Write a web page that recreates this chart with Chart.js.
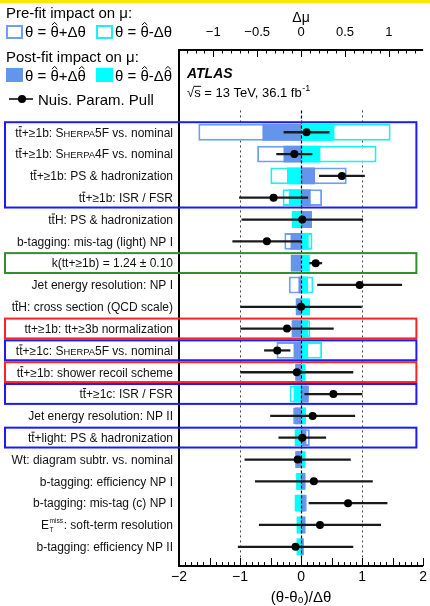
<!DOCTYPE html>
<html>
<head>
<meta charset="utf-8">
<script src="https://cdn.jsdelivr.net/npm/chart.js@4.4.1/dist/chart.umd.min.js"></script>
<style>
  html, body { margin: 0; padding: 0; background: #fff; }
  canvas { display: block; }
</style>
</head>
<body>
<canvas id="ranking" width="430" height="606"></canvas>
<script>
// nuisance parameters, ranked from top to bottom
const labels = [
  'tt\u0304+≥1b: Sherpa5F vs. nominal',
  'tt\u0304+≥1b: Sherpa4F vs. nominal',
  'tt\u0304+≥1b: PS & hadronization',
  'tt\u0304+≥1b: ISR / FSR',
  'tt\u0304H: PS & hadronization',
  'b-tagging: mis-tag (light) NP I',
  'k(tt+≥1b) = 1.24 ± 0.10',
  'Jet energy resolution: NP I',
  'tt\u0304H: cross section (QCD scale)',
  'tt+≥1b: tt+≥3b normalization',
  'tt\u0304+≥1c: Sherpa5F vs. nominal',
  'tt\u0304+≥1b: shower recoil scheme',
  'tt\u0304+≥1c: ISR / FSR',
  'Jet energy resolution: NP II',
  'tt\u0304+light: PS & hadronization',
  'Wt: diagram subtr. vs. nominal',
  'b-tagging: efficiency NP I',
  'b-tagging: mis-tag (c) NP I',
  'E_{T}^{miss}: soft-term resolution',
  'b-tagging: efficiency NP II'
];
// impact on mu (top axis)
const preUp    = [-1.17, -0.50, 0.52, 0.24, 0.125, -0.19, null, -0.14, -0.06, -0.11, -0.28, -0.065, 0.09, -0.09, 0.10, -0.065, 0.05, 0.065, 0.05, 0.03];
const preDown  = [1.02, 0.86, -0.35, -0.21, -0.105, 0.13, null, 0.14, 0.10, 0.105, 0.24, 0.05, -0.13, 0.055, -0.075, 0.05, -0.055, -0.075, -0.05, -0.05];
const postUp   = [-0.44, -0.20, 0.16, 0.11, 0.125, -0.12, -0.117, -0.03, -0.06, -0.10, -0.085, -0.065, 0.08, -0.07, 0.06, -0.065, 0.05, 0.05, 0.05, 0.03];
const postDown = [0.38, 0.22, -0.16, -0.14, -0.105, 0.087, 0.10, 0.08, 0.10, 0.08, 0.08, 0.05, -0.085, 0.055, -0.06, 0.05, -0.055, -0.06, -0.05, -0.05];
// pulls (bottom axis)
const pulls    = [0.09, -0.11, 0.67, -0.45, 0.02, -0.56, 0.24, 0.96, 0.0, -0.23, -0.39, -0.07, 0.53, 0.19, 0.02, -0.055, 0.21, 0.77, 0.31, -0.09];
const pullErr  = [0.37, 0.29, 0.37, 0.56, 0.99, 0.56, 0.10, 0.69, 0.99, 0.76, 0.21, 0.92, 0.47, 0.69, 0.385, 0.865, 0.96, 0.64, 0.995, 0.94];

const topTicks = [-1, -0.5, 0, 0.5, 1];
const bottomTicks = [-2, -1.5, -1, -0.5, 0, 0.5, 1, 1.5, 2];

// highlighted groups of rows: [first, last, colour]
const groups = [
  [0, 3, '#1c1cf0'],
  [6, 6, '#2f8f2f'],
  [9, 9, '#ff2222'],
  [10, 10, '#1c1cf0'],
  [11, 11, '#ff2222'],
  [12, 12, '#1c1cf0'],
  [14, 14, '#1c1cf0']
];

const FAM = '"Liberation Sans", Arial, Helvetica, sans-serif';
const BLUE = '#6495ed', BLUE_LINE = '#6f9ff5', CYAN = '#00ffff', CYAN_LINE = '#1ef0f0';
const f = (size, style) => (style ? style + ' ' : '') + size + 'px ' + FAM;

function rows(arr) {
  return arr.map((v, i) => ({ y: i, x: v })).filter(p => p.x !== null);
}

// small text renderer: small caps for Sherpa, stacked sub/sup, overline / hat accents
function parseRich(str) {
  const out = [];
  const re = /Sherpa|_\{([^}]*)\}\^\{([^}]*)\}/g;
  let last = 0, m;
  while ((m = re.exec(str))) {
    if (m.index > last) out.push({ t: str.slice(last, m.index) });
    if (m[0] === 'Sherpa') { out.push({ t: 'S' }); out.push({ t: 'HERPA', k: 0.78 }); }
    else out.push({ sub: m[1], sup: m[2] });
    last = re.lastIndex;
  }
  if (last < str.length) out.push({ t: str.slice(last) });
  return out;
}

function drawRich(ctx, str, x, y, size, align) {
  const parts = parseRich(str);
  let w = 0;
  parts.forEach(p => {
    if (p.sub !== undefined) {
      ctx.font = f(size * 0.55);
      p.w = Math.max(ctx.measureText(p.sub).width, ctx.measureText(p.sup).width) + 1;
    } else {
      ctx.font = f(size * (p.k || 1));
      p.w = ctx.measureText(p.t.replace(/[\u0302\u0304]/g, '')).width;
    }
    w += p.w;
  });
  let cx = align === 'right' ? x - w : x;
  ctx.textAlign = 'left';
  ctx.textBaseline = 'alphabetic';
  parts.forEach(p => {
    if (p.sub !== undefined) {
      ctx.font = f(size * 0.55);
      ctx.fillText(p.sub, cx + 0.5, y + size * 0.2);
      ctx.fillText(p.sup, cx + 0.5, y - size * 0.5);
      cx += p.w;
      return;
    }
    const s = size * (p.k || 1);
    ctx.font = f(s);
    p.t.split(/(.[\u0302\u0304])/).forEach(q => {
      if (!q) return;
      if (q.length === 2 && (q[1] === '\u0304' || q[1] === '\u0302')) {
        const ch = q[0];
        const cw = ctx.measureText(ch).width;
        ctx.fillText(ch, cx, y);
        if (q[1] === '\u0304') {
          ctx.fillRect(cx + cw * 0.05, y - s * 0.86, cw * 0.95, Math.max(1, s * 0.07));
        } else {
          ctx.save();
          ctx.strokeStyle = ctx.fillStyle;
          ctx.lineWidth = 1;
          ctx.beginPath();
          ctx.moveTo(cx + cw * 0.18, y - s * 0.8);
          ctx.lineTo(cx + cw * 0.5, y - s * 0.97);
          ctx.lineTo(cx + cw * 0.82, y - s * 0.8);
          ctx.stroke();
          ctx.restore();
        }
        cx += cw;
      } else {
        ctx.fillText(q, cx, y);
        cx += ctx.measureText(q).width;
      }
    });
  });
}

const decor = {
  id: 'decor',
  beforeDatasetsDraw(chart) {
    const { ctx } = chart;
    const xs = chart.scales.x, ys = chart.scales.y;
    const y0 = ys.getPixelForValue(-1.0), y1 = ys.getPixelForValue(19.55);
    ctx.save();
    ctx.strokeStyle = '#444';
    ctx.lineWidth = 1;
    ctx.setLineDash([2, 3]);
    [-1, 1].forEach(v => {
      const px = Math.round(xs.getPixelForValue(v)) + 0.5;
      ctx.beginPath(); ctx.moveTo(px, y0); ctx.lineTo(px, y1); ctx.stroke();
    });
    ctx.restore();
  },
  afterDatasetDraw(chart, args) {
    if (chart.data.datasets[args.index].label !== 'postDown') return;
    const { ctx } = chart;
    const xs = chart.scales.x, ys = chart.scales.y;
    const y0 = ys.getPixelForValue(-1.0), y1 = ys.getPixelForValue(19.55);
    const px = Math.round(xs.getPixelForValue(0)) + 0.5;
    ctx.save();
    ctx.strokeStyle = '#000';
    ctx.lineWidth = 1.2;
    ctx.setLineDash([3, 2]);
    ctx.beginPath(); ctx.moveTo(px, y0); ctx.lineTo(px, y1); ctx.stroke();
    ctx.restore();
  },
  afterDraw(chart) {
    const { ctx, chartArea: a } = chart;
    const xs = chart.scales.x, xt = chart.scales.x2, ys = chart.scales.y;
    ctx.save();

    // frame: left, top, bottom
    ctx.strokeStyle = '#000';
    ctx.lineWidth = 2;
    ctx.beginPath();
    ctx.moveTo(a.right, a.top); ctx.lineTo(a.left, a.top);
    ctx.lineTo(a.left, a.bottom); ctx.lineTo(a.right, a.bottom);
    ctx.stroke();

    // inward tick marks
    ctx.lineWidth = 1;
    for (let k = -20; k <= 20; k++) {
      const px = Math.round(xs.getPixelForValue(k / 10)) + 0.5;
      const len = k % 5 === 0 ? 8 : 4;
      ctx.beginPath(); ctx.moveTo(px, a.bottom); ctx.lineTo(px, a.bottom - len); ctx.stroke();
    }
    for (let k = -13; k <= 13; k++) {
      const px = Math.round(xt.getPixelForValue(k / 10)) + 0.5;
      const len = k % 5 === 0 ? 7 : 3.5;
      ctx.beginPath(); ctx.moveTo(px, a.top); ctx.lineTo(px, a.top + len); ctx.stroke();
    }

    // row labels
    ctx.fillStyle = '#111';
    labels.forEach((lab, i) => {
      drawRich(ctx, lab, a.left - 6, ys.getPixelForValue(i) + 4.3, 12, 'right');
    });

    // group boxes
    ctx.lineWidth = 2;
    groups.forEach(([r0, r1, col]) => {
      const top = ys.getPixelForValue(r0 - 0.46);
      const bot = ys.getPixelForValue(r1 + 0.45);
      const right = xs.getPixelForValue(1.89);
      ctx.strokeStyle = col;
      ctx.strokeRect(5, top, right - 5, bot - top);
    });

    // ATLAS label
    ctx.fillStyle = '#000';
    ctx.textAlign = 'left';
    ctx.textBaseline = 'alphabetic';
    ctx.font = f(14, 'italic bold');
    ctx.fillText('ATLAS', 187, 78);
    ctx.font = f(13);
    const sq = ctx.measureText('\u221a').width, ss = ctx.measureText('s').width;
    const main = '\u221as = 13 TeV, 36.1 fb';
    ctx.fillText(main, 187, 97);
    ctx.fillRect(187 + sq - 0.5, 97 - 13 * 0.86, ss + 1, 1);
    const mw = ctx.measureText(main).width;
    ctx.font = f(9);
    ctx.fillText('-1', 187 + mw + 0.5, 91);

    // legend
    ctx.fillStyle = '#000';
    ctx.font = f(15);
    ctx.fillText('Pre-fit impact on \u03bc:', 6, 18);
    ctx.fillText('Post-fit impact on \u03bc:', 6, 62);
    ctx.lineWidth = 2;
    ctx.strokeStyle = BLUE_LINE; ctx.strokeRect(7, 26, 15, 12);
    ctx.strokeStyle = CYAN_LINE; ctx.strokeRect(97, 26, 15, 12);
    ctx.fillStyle = '#000';
    drawRich(ctx, '\u03b8 = \u03b8\u0302+\u0394\u03b8', 25, 37, 15);
    drawRich(ctx, '\u03b8 = \u03b8\u0302-\u0394\u03b8', 115, 37, 15);
    ctx.fillStyle = BLUE; ctx.fillRect(6, 68, 17, 14);
    ctx.fillStyle = CYAN; ctx.fillRect(96, 68, 17, 14);
    ctx.fillStyle = '#000';
    drawRich(ctx, '\u03b8 = \u03b8\u0302+\u0394\u03b8\u0302', 25, 81, 15);
    drawRich(ctx, '\u03b8 = \u03b8\u0302-\u0394\u03b8\u0302', 115, 81, 15);
    ctx.lineWidth = 1.5;
    ctx.strokeStyle = '#000';
    ctx.beginPath(); ctx.moveTo(9, 99); ctx.lineTo(33, 99); ctx.stroke();
    ctx.beginPath(); ctx.arc(22, 99, 4, 0, Math.PI * 2); ctx.fill();
    ctx.font = f(15);
    ctx.fillText('Nuis. Param. Pull', 38, 105);

    // yellow strip on top
    ctx.fillStyle = '#ffe600';
    ctx.fillRect(0, 0, chart.width, 3);
    ctx.restore();
  }
};

const barBase = { type: 'bar', xAxisID: 'x2', grouped: false, barPercentage: 0.77, categoryPercentage: 1, borderSkipped: false };

new Chart(document.getElementById('ranking'), {
  type: 'bar',
  data: {
    datasets: [
      { ...barBase, label: 'preUp', data: rows(preUp), backgroundColor: '#fff', borderColor: BLUE_LINE, borderWidth: 2, order: 6 },
      { ...barBase, label: 'preDown', data: rows(preDown), backgroundColor: '#fff', borderColor: CYAN_LINE, borderWidth: 2, order: 5 },
      { ...barBase, label: 'postUp', data: rows(postUp), backgroundColor: BLUE, borderWidth: 0, order: 4 },
      { ...barBase, label: 'postDown', data: rows(postDown), backgroundColor: CYAN, borderWidth: 0, order: 3 },
      {
        type: 'bar', label: 'pullErr', xAxisID: 'x', grouped: false, barThickness: 1.6,
        data: pulls.map((p, i) => ({ y: i, x: [p - pullErr[i], p + pullErr[i]] })),
        backgroundColor: '#1a1a1a', borderWidth: 0, order: 2
      },
      {
        type: 'scatter', label: 'pull', xAxisID: 'x',
        data: pulls.map((p, i) => ({ y: i, x: p })),
        pointRadius: 4, pointBackgroundColor: '#000', pointBorderWidth: 0, order: 1
      }
    ]
  },
  options: {
    indexAxis: 'y',
    responsive: false,
    animation: false,
    layout: { padding: { left: 179, right: 5, top: 0, bottom: 0 } },
    plugins: { legend: { display: false }, tooltip: { enabled: false } },
    scales: {
      y: { type: 'linear', display: false, reverse: true, min: -3.77, max: 19.88,
           offset: false, grid: { offset: false } },
      x: {
        type: 'linear', position: 'bottom', min: -2, max: 2,
        grid: { display: false, drawTicks: false }, border: { display: false },
        afterBuildTicks: s => { s.ticks = bottomTicks.map(v => ({ value: v })); },
        afterFit: s => { s.height = 40; },
        ticks: { color: '#000', font: { family: FAM, size: 14 }, padding: 3, maxRotation: 0,
                 callback: v => String(v).replace('-', '\u2212') },
        title: { display: true, text: '(\u03b8-\u03b8\u2080)/\u0394\u03b8', color: '#000',
                 font: { family: FAM, size: 15, lineHeight: 1.1 }, padding: { top: 0, bottom: 0 } }
      },
      x2: {
        type: 'linear', position: 'top', min: -1.39, max: 1.39,
        grid: { display: false, drawTicks: false }, border: { display: false },
        afterBuildTicks: s => { s.ticks = topTicks.map(v => ({ value: v })); },
        afterFit: s => { s.height = 50; },
        ticks: { color: '#000', font: { family: FAM, size: 13 }, padding: 10, maxRotation: 0,
                 callback: v => String(v).replace('-', '\u2212') },
        title: { display: true, text: '\u0394\u03bc', color: '#000',
                 font: { family: FAM, size: 14 }, padding: { top: 10, bottom: 0 } }
      }
    }
  },
  plugins: [decor]
});
</script>
</body>
</html>
